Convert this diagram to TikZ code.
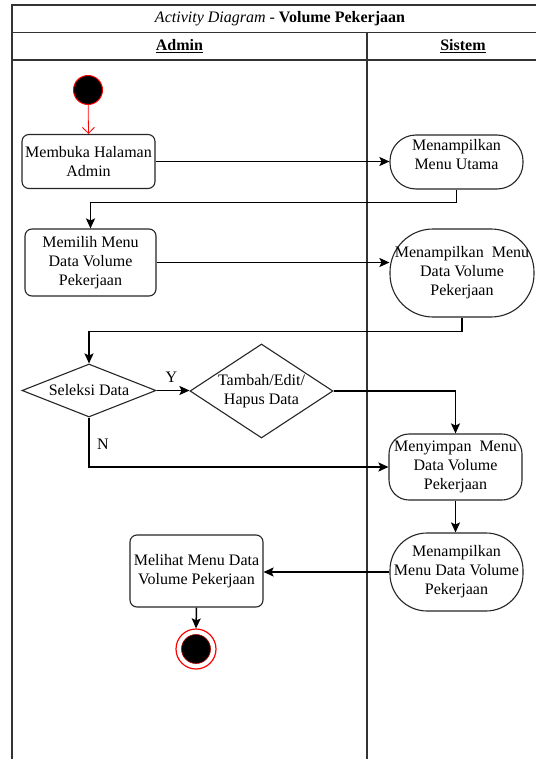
\documentclass[tikz,border=0pt]{standalone}
\usepackage{fontspec}
\setmainfont{Liberation Serif}
\usetikzlibrary{shapes.geometric,arrows.meta}
\begin{document}
\begin{tikzpicture}[x=1pt,y=-1pt,
  frame/.style={line width=1.3pt, draw=black!80},
  txt/.style={font=\fontsize{16}{19}\selectfont, align=center},
  act/.style={txt, draw=black!85, line width=1.1pt, rounded corners=7pt, inner sep=0pt},
  sys/.style={txt, draw=black!85, line width=1.1pt, inner sep=0pt},
  dec/.style={txt, draw=black!85, line width=1.1pt, shape=diamond, inner sep=0pt},
  flow/.style={line width=1.5pt, -{Stealth[length=10pt,width=9pt,inset=2pt]}},
  guard/.style={font=\fontsize{16}{19}\selectfont}
]
\useasboundingbox[fill=white] (0,0) rectangle (536,759);

% swimlane frame
\draw[frame] (12,759) -- (12,5) -- (536,5);
\draw[frame] (12,32.5) -- (536,32.5);
\draw[frame] (12,60) -- (536,60);
\draw[frame] (367,32.5) -- (367,759);
\node[txt] (title) at (280,19) {\textit{Activity Diagram} - \textbf{Volume Pekerjaan}};
\node[txt] (laneA) at (179.5,46) {\underline{\textbf{Admin}}};
\node[txt] (laneS) at (463,46) {\underline{\textbf{Sistem}}};

% start node
\node[circle, fill=black, draw=red, line width=1pt, minimum size=29pt, inner sep=0pt] (start) at (88,90) {};

% Admin lane
\node[act, minimum width=133pt, minimum height=54pt] (open) at (88.5,161.5) {Membuka Halaman\\Admin};
\node[act, minimum width=131pt, minimum height=67pt] (pick) at (90.5,262.5) {Memilih Menu\\Data Volume\\Pekerjaan};
\node[dec, minimum width=134pt, minimum height=53pt, aspect=2.5] (sel) at (89,390.5) {Seleksi Data};
\node[dec, minimum width=143pt, minimum height=94pt, aspect=1.5] (edit) at (261.5,391) {Tambah/Edit/\\Hapus Data};
\node[act, minimum width=133pt, minimum height=72pt] (view) at (196.5,571) {Melihat Menu Data\\Volume Pekerjaan};

% end node
\node[circle, fill=white, draw=red, line width=1.2pt, minimum size=40pt, inner sep=0pt] (end) at (196,649) {};
\node[circle, fill=black, draw=red!70!black, line width=0.6pt, minimum size=29pt, inner sep=0pt] (endcore) at (end.center) {};

% Sistem lane
\node[sys, rounded corners=26pt, minimum width=133pt, minimum height=54pt] (menu) at (456.5,162) {Menampilkan\\Menu Utama\\[-4pt]\mbox{}};
\node[sys, rounded corners=43pt, minimum width=144pt, minimum height=88pt] (show) at (462,273) {Menampilkan\ \ Menu\\Data Volume\\Pekerjaan};
\node[sys, rounded corners=20pt, minimum width=133pt, minimum height=66pt] (save) at (455.5,467) {Menyimpan\ \ Menu\\Data Volume\\Pekerjaan};
\node[sys, rounded corners=37pt, minimum width=133pt, minimum height=78pt] (list) at (456.5,572) {Menampilkan\\Menu Data Volume\\Pekerjaan};

% control flow
\draw[red, line width=0.8pt, -{Straight Barb[length=6pt,width=12pt]}] (start) -- (open.north);
\draw[flow] (open.east) -- (open.east -| menu.west);
\draw[flow] (menu.south) -- ++(0,13) -| (pick.north);
\draw[flow] (pick.east) -- (pick.east -| show.west);
\draw[flow] (show.south) -- ++(0,14) -| (sel.north);
\draw[flow] (sel.east) -- node[guard, above=4pt, pos=0.45] (yes) {Y} (sel.east -| edit.west);
\draw[flow] (edit.east) -| (save.north);
\draw[flow] (sel.south) |- node[guard, pos=0.27, right=4pt] (no) {N} (save.west);
\draw[flow] (save.south) -- (save.south |- list.north);
\draw[flow] (list.west) -- (list.west -| view.east);
\draw[flow] (view.south) -- (end.north);
\end{tikzpicture}
\end{document}
